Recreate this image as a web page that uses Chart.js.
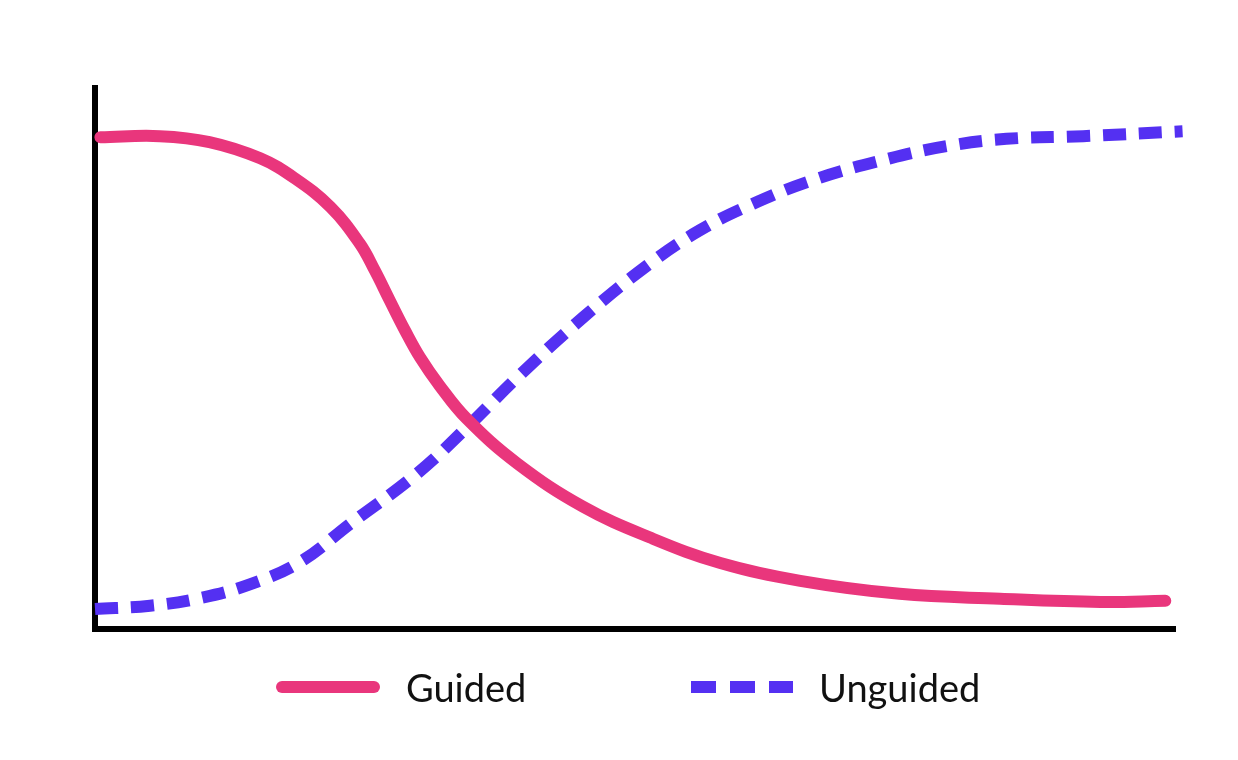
<!DOCTYPE html>
<html>
<head>
<meta charset="utf-8">
<script src="https://cdn.jsdelivr.net/npm/chart.js@4/dist/chart.umd.min.js"></script>
<style>
  html, body { margin: 0; padding: 0; background: #fff; }
  #wrap { position: relative; width: 1238px; height: 760px; }
  #legend {
    position: absolute; left: 0; top: 661px; width: 1238px; height: 52px;
    font-family: Lato, "Noto Sans", sans-serif; font-size: 38px; color: #111;
  }
  .item { position: absolute; top: 0; height: 52px; display: flex; align-items: center; }
  .item svg { margin-right: 26px; }
</style>
</head>
<body>
<div id="wrap">
  <canvas id="chart" width="1238" height="760"></canvas>
  <div id="legend"></div>
</div>
<script>
// x positions (0-100 along the time axis), y values (0-100)
const guidedX = [0.5, 6, 10.6, 15.3, 18.5, 21.8, 24.5, 25.9, 27.3, 28.7, 30.1, 31.9, 34.4, 39.1, 45.2, 51.4, 57.9, 65.3, 74.5, 83.8, 93.1, 99.1];
const guidedY = [90.9, 91.1, 90.0, 87.0, 83.3, 78.0, 71.3, 66.3, 60.7, 55.2, 50.2, 45.0, 38.9, 30.6, 22.6, 16.9, 12.2, 8.9, 6.5, 5.6, 5.0, 5.2];

const unguidedX = [0, 5.1, 9.7, 14.4, 19.0, 23.6, 29.8, 34.4, 39.1, 45.2, 51.4, 56.0, 60.6, 66.5, 73.6, 79.0, 84.4, 91.5, 100.7];
const unguidedY = [3.7, 4.3, 5.7, 8.3, 12.4, 19.4, 28.7, 37.2, 46.5, 57.6, 67.6, 73.7, 78.3, 83.0, 87.0, 89.3, 90.6, 91.1, 92.0];

const seriesNames = ["Guided", "Unguided"];
const pink = "#E9367C";
const violet = "#5430F2";

function points(xs, ys) {
  return xs.map(function (x, i) { return { x: x, y: ys[i] }; });
}

document.addEventListener("DOMContentLoaded", function () {
  const ctx = document.getElementById("chart").getContext("2d");
  new Chart(ctx, {
    type: "line",
    data: {
      datasets: [
        {
          label: seriesNames[0],
          data: points(guidedX, guidedY),
          borderColor: pink,
          borderWidth: 12,
          borderCapStyle: "round",
          pointRadius: 0,
          tension: 0.4,
          clip: false,
        },
        {
          label: seriesNames[1],
          data: points(unguidedX, unguidedY),
          borderColor: violet,
          borderWidth: 12,
          borderDash: [23, 13],
          borderCapStyle: "butt",
          pointRadius: 0,
          tension: 0.4,
          clip: false,
        },
      ],
    },
    options: {
      responsive: false,
      animation: false,
      layout: { padding: { left: 87, right: 63, top: 88, bottom: 123 } },
      plugins: { legend: { display: false }, tooltip: { enabled: false } },
      scales: {
        x: {
          type: "linear",
          min: 0,
          max: 100,
          grid: { display: false },
          ticks: { display: false },
          border: { display: true, color: "#000", width: 6 },
        },
        y: {
          min: 0,
          max: 100,
          grid: { display: false },
          ticks: { display: false },
          border: { display: true, color: "#000", width: 6 },
        },
      },
    },
  });

  // legend below the chart
  const legend = document.getElementById("legend");
  const lefts = [276, 689];
  seriesNames.forEach(function (name, i) {
    const item = document.createElement("div");
    item.className = "item";
    item.style.left = lefts[i] + "px";
    const line = i === 0
      ? '<line x1="6" y1="26" x2="98" y2="26" stroke="' + pink + '" stroke-width="12" stroke-linecap="round"/>'
      : '<line x1="2" y1="26" x2="104" y2="26" stroke="' + violet + '" stroke-width="12" stroke-dasharray="25 14"/>';
    item.innerHTML = '<svg width="104" height="52">' + line + '</svg><span>' + name + '</span>';
    legend.appendChild(item);
  });
});
</script>
</body>
</html>
